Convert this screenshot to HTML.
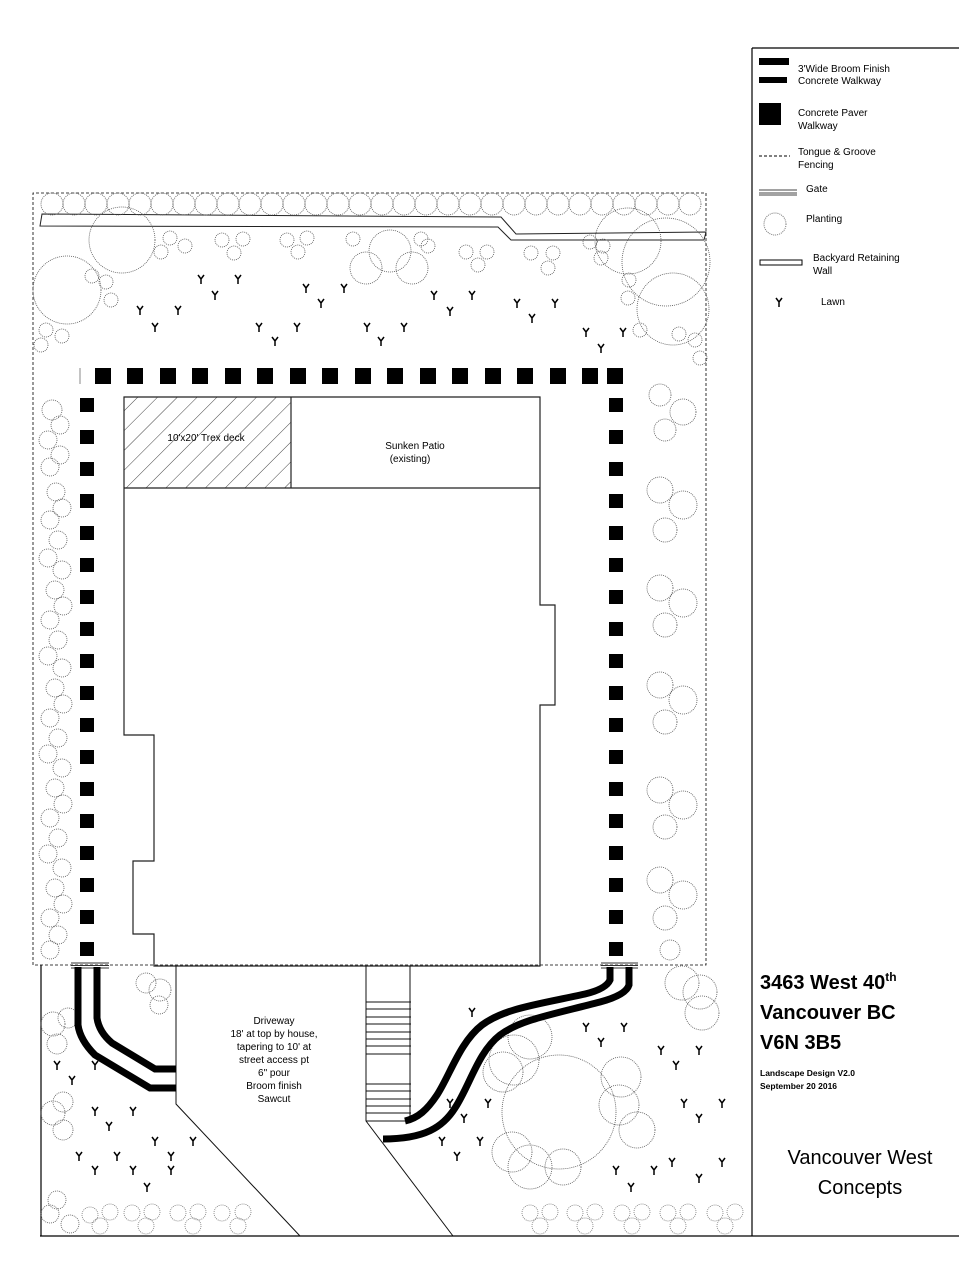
<!DOCTYPE html>
<html><head><meta charset="utf-8"><style>
html,body{margin:0;padding:0;background:#fff;}
svg{display:block;font-family:"Liberation Sans",sans-serif;}
</style></head><body>
<svg width="959" height="1278" viewBox="0 0 959 1278" xmlns="http://www.w3.org/2000/svg">
<defs>
<pattern id="hatch" width="14" height="14" patternUnits="userSpaceOnUse" patternTransform="rotate(45)">
<line x1="0" y1="0" x2="0" y2="14" stroke="#444" stroke-width="1"/>
</pattern>
<symbol id="y" viewBox="-4 -5 8 10" overflow="visible">
<path d="M-3,-4 L0,0 L3,-4 M0,0 L0,5" stroke="#000" stroke-width="1.5" fill="none"/>
</symbol>
</defs>
<rect width="959" height="1278" fill="#fff"/>

<!-- right panel -->
<path d="M752,48 L959,48 M752,48 L752,1236 M40,1236 L959,1236" stroke="#000" stroke-width="1.2" fill="none"/>

<!-- legend -->
<g font-size="10" fill="#000">
<rect x="759" y="58" width="30" height="7"/><rect x="759" y="77" width="28" height="6"/>
<text x="798" y="72">3'Wide Broom Finish</text><text x="798" y="84">Concrete Walkway</text>
<rect x="759" y="103" width="22" height="22"/>
<text x="798" y="116">Concrete Paver</text><text x="798" y="129">Walkway</text>
<line x1="759" y1="156" x2="790" y2="156" stroke="#000" stroke-dasharray="3,2"/>
<text x="798" y="155">Tongue &amp; Groove</text><text x="798" y="168">Fencing</text>
<line x1="759" y1="190" x2="797" y2="190" stroke="#444"/><line x1="759" y1="193" x2="797" y2="193" stroke="#444"/><line x1="759" y1="195" x2="797" y2="195" stroke="#444"/>
<text x="806" y="192">Gate</text>
<circle cx="775" cy="224" r="11" fill="none" stroke="#777" stroke-dasharray="1,1"/>
<text x="806" y="222">Planting</text>
<rect x="760" y="260" width="42" height="5" fill="none" stroke="#000"/>
<text x="813" y="261">Backyard Retaining</text><text x="813" y="274">Wall</text>
<use href="#y" x="775" y="297" width="8" height="10"/>
<text x="821" y="305">Lawn</text>
</g>

<!-- title -->
<g fill="#000">
<text x="760" y="989" font-size="20" font-weight="bold">3463 West 40<tspan font-size="12" dy="-8">th</tspan></text>
<text x="760" y="1019" font-size="20" font-weight="bold">Vancouver BC</text>
<text x="760" y="1049" font-size="20" font-weight="bold">V6N 3B5</text>
<text x="760" y="1076" font-size="8.5" font-weight="bold">Landscape Design V2.0</text>
<text x="760" y="1089" font-size="8.5" font-weight="bold">September 20 2016</text>
<text x="860" y="1164" font-size="20" text-anchor="middle">Vancouver West</text>
<text x="860" y="1194" font-size="20" text-anchor="middle">Concepts</text>
</g>

<!-- fence -->
<path d="M33,965 L33,193 L706,193 L706,965 L33,965" stroke="#000" stroke-width="0.8" stroke-dasharray="3,2" fill="none"/>
<line x1="41" y1="965" x2="41" y2="1236" stroke="#000" stroke-width="1.2"/>

<!-- retaining wall -->
<path d="M42,214 L501,217 L516,234 L706,232 L704,240 L511,240 L498,227 L40,226 Z" fill="#fff" stroke="#222" stroke-width="1"/>

<!-- top row planting -->
<g fill="none" stroke="#555" stroke-width="0.8" stroke-dasharray="1,1">
<circle cx="52" cy="204" r="11"/><circle cx="74" cy="204" r="11"/><circle cx="96" cy="204" r="11"/><circle cx="118" cy="204" r="11"/><circle cx="140" cy="204" r="11"/><circle cx="162" cy="204" r="11"/><circle cx="184" cy="204" r="11"/><circle cx="206" cy="204" r="11"/><circle cx="228" cy="204" r="11"/><circle cx="250" cy="204" r="11"/><circle cx="272" cy="204" r="11"/><circle cx="294" cy="204" r="11"/><circle cx="316" cy="204" r="11"/><circle cx="338" cy="204" r="11"/><circle cx="360" cy="204" r="11"/><circle cx="382" cy="204" r="11"/><circle cx="404" cy="204" r="11"/><circle cx="426" cy="204" r="11"/><circle cx="448" cy="204" r="11"/><circle cx="470" cy="204" r="11"/><circle cx="492" cy="204" r="11"/><circle cx="514" cy="204" r="11"/><circle cx="536" cy="204" r="11"/><circle cx="558" cy="204" r="11"/><circle cx="580" cy="204" r="11"/><circle cx="602" cy="204" r="11"/><circle cx="624" cy="204" r="11"/><circle cx="646" cy="204" r="11"/><circle cx="668" cy="204" r="11"/><circle cx="690" cy="204" r="11"/>
<!-- big top -->
<circle cx="122" cy="240" r="33"/><circle cx="67" cy="290" r="34"/><circle cx="390" cy="251" r="21"/><circle cx="366" cy="268" r="16"/><circle cx="412" cy="268" r="16"/>
<circle cx="628" cy="241" r="33"/><circle cx="666" cy="262" r="44"/><circle cx="673" cy="309" r="36"/>
<!-- small clusters top -->
<circle cx="170" cy="238" r="7"/><circle cx="185" cy="246" r="7"/><circle cx="161" cy="252" r="7"/>
<circle cx="222" cy="240" r="7"/><circle cx="243" cy="239" r="7"/><circle cx="234" cy="253" r="7"/>
<circle cx="287" cy="240" r="7"/><circle cx="307" cy="238" r="7"/><circle cx="298" cy="252" r="7"/>
<circle cx="353" cy="239" r="7"/><circle cx="421" cy="239" r="7"/><circle cx="428" cy="246" r="7"/>
<circle cx="466" cy="252" r="7"/><circle cx="487" cy="252" r="7"/><circle cx="478" cy="265" r="7"/>
<circle cx="531" cy="253" r="7"/><circle cx="553" cy="253" r="7"/><circle cx="548" cy="268" r="7"/>
<circle cx="590" cy="242" r="7"/><circle cx="603" cy="246" r="7"/><circle cx="601" cy="258" r="7"/>
<circle cx="46" cy="330" r="7"/><circle cx="62" cy="336" r="7"/><circle cx="41" cy="345" r="7"/>
<circle cx="106" cy="282" r="7"/><circle cx="111" cy="300" r="7"/><circle cx="92" cy="276" r="7"/>
<circle cx="629" cy="280" r="7"/><circle cx="628" cy="298" r="7"/><circle cx="640" cy="330" r="7"/>
<circle cx="695" cy="340" r="7"/><circle cx="700" cy="358" r="7"/><circle cx="679" cy="334" r="7"/>
</g>

<!-- side planting -->
<g fill="none" stroke="#555" stroke-width="0.8" stroke-dasharray="1,1">
<circle cx="52" cy="410" r="10"/><circle cx="60" cy="425" r="9"/><circle cx="48" cy="440" r="9"/>
<circle cx="60" cy="455" r="9"/><circle cx="50" cy="467" r="9"/>
<circle cx="56" cy="492" r="9"/><circle cx="62" cy="508" r="9"/><circle cx="50" cy="520" r="9"/>
<circle cx="58" cy="540" r="9"/><circle cx="48" cy="558" r="9"/><circle cx="62" cy="570" r="9"/>
<circle cx="55" cy="590" r="9"/><circle cx="63" cy="606" r="9"/><circle cx="50" cy="620" r="9"/>
<circle cx="58" cy="640" r="9"/><circle cx="48" cy="656" r="9"/><circle cx="62" cy="668" r="9"/>
<circle cx="55" cy="688" r="9"/><circle cx="63" cy="704" r="9"/><circle cx="50" cy="718" r="9"/>
<circle cx="58" cy="738" r="9"/><circle cx="48" cy="754" r="9"/><circle cx="62" cy="768" r="9"/>
<circle cx="55" cy="788" r="9"/><circle cx="63" cy="804" r="9"/><circle cx="50" cy="818" r="9"/>
<circle cx="58" cy="838" r="9"/><circle cx="48" cy="854" r="9"/><circle cx="62" cy="868" r="9"/>
<circle cx="55" cy="888" r="9"/><circle cx="63" cy="904" r="9"/><circle cx="50" cy="918" r="9"/>
<circle cx="58" cy="935" r="9"/><circle cx="50" cy="950" r="9"/>
<circle cx="660" cy="395" r="11"/><circle cx="683" cy="412" r="13"/><circle cx="665" cy="430" r="11"/>
<circle cx="660" cy="490" r="13"/><circle cx="683" cy="505" r="14"/><circle cx="665" cy="530" r="12"/>
<circle cx="660" cy="588" r="13"/><circle cx="683" cy="603" r="14"/><circle cx="665" cy="625" r="12"/>
<circle cx="660" cy="685" r="13"/><circle cx="683" cy="700" r="14"/><circle cx="665" cy="722" r="12"/>
<circle cx="660" cy="790" r="13"/><circle cx="683" cy="805" r="14"/><circle cx="665" cy="827" r="12"/>
<circle cx="660" cy="880" r="13"/><circle cx="683" cy="895" r="14"/><circle cx="665" cy="918" r="12"/>
<circle cx="670" cy="950" r="10"/>
<!-- bottom -->
<circle cx="559" cy="1112" r="57"/>
<circle cx="530" cy="1037" r="22"/><circle cx="514" cy="1060" r="25"/><circle cx="503" cy="1072" r="20"/>
<circle cx="621" cy="1077" r="20"/><circle cx="619" cy="1105" r="20"/><circle cx="637" cy="1130" r="18"/>
<circle cx="512" cy="1152" r="20"/><circle cx="530" cy="1167" r="22"/><circle cx="563" cy="1167" r="18"/>
<circle cx="682" cy="983" r="17"/><circle cx="700" cy="992" r="17"/><circle cx="702" cy="1013" r="17"/>
<circle cx="146" cy="983" r="10"/><circle cx="160" cy="990" r="11"/><circle cx="159" cy="1005" r="9"/>
<circle cx="53" cy="1024" r="12"/><circle cx="68" cy="1018" r="10"/><circle cx="57" cy="1044" r="10"/>
<circle cx="53" cy="1113" r="12"/><circle cx="63" cy="1102" r="10"/><circle cx="63" cy="1130" r="10"/>
<circle cx="57" cy="1200" r="9"/><circle cx="50" cy="1214" r="9"/><circle cx="70" cy="1224" r="9"/>
</g>
<g fill="none" stroke="#777" stroke-width="0.8" stroke-dasharray="1,1">
<circle cx="90" cy="1215" r="8"/><circle cx="110" cy="1212" r="8"/><circle cx="100" cy="1226" r="8"/>
<circle cx="132" cy="1213" r="8"/><circle cx="152" cy="1212" r="8"/><circle cx="146" cy="1226" r="8"/>
<circle cx="178" cy="1213" r="8"/><circle cx="198" cy="1212" r="8"/><circle cx="193" cy="1226" r="8"/>
<circle cx="222" cy="1213" r="8"/><circle cx="243" cy="1212" r="8"/><circle cx="238" cy="1226" r="8"/>
<circle cx="530" cy="1213" r="8"/><circle cx="550" cy="1212" r="8"/><circle cx="540" cy="1226" r="8"/>
<circle cx="575" cy="1213" r="8"/><circle cx="595" cy="1212" r="8"/><circle cx="585" cy="1226" r="8"/>
<circle cx="622" cy="1213" r="8"/><circle cx="642" cy="1212" r="8"/><circle cx="632" cy="1226" r="8"/>
<circle cx="668" cy="1213" r="8"/><circle cx="688" cy="1212" r="8"/><circle cx="678" cy="1226" r="8"/>
<circle cx="715" cy="1213" r="8"/><circle cx="735" cy="1212" r="8"/><circle cx="725" cy="1226" r="8"/>
</g>

<!-- house -->
<rect x="124" y="397" width="167" height="91" fill="url(#hatch)" stroke="none"/>
<path d="M124,397 L540,397 L540,605 L555,605 L555,705 L540,705 L540,966 L154,966 L154,934 L133,934 L133,861 L154,861 L154,735 L124,735 Z" fill="none" stroke="#222" stroke-width="1.2"/>
<path d="M124,488 L540,488 M291,397 L291,488" stroke="#222" stroke-width="1.2"/>
<g font-size="10" fill="#000" text-anchor="middle">
<text x="206" y="441">10'x20' Trex deck</text>
<text x="415" y="449">Sunken Patio</text>
<text x="410" y="462">(existing)</text>
</g>

<!-- pavers -->
<g fill="#000">
<rect x="95" y="368" width="16" height="16"/><rect x="127" y="368" width="16" height="16"/><rect x="160" y="368" width="16" height="16"/><rect x="192" y="368" width="16" height="16"/><rect x="225" y="368" width="16" height="16"/><rect x="257" y="368" width="16" height="16"/><rect x="290" y="368" width="16" height="16"/><rect x="322" y="368" width="16" height="16"/><rect x="355" y="368" width="16" height="16"/><rect x="387" y="368" width="16" height="16"/><rect x="420" y="368" width="16" height="16"/><rect x="452" y="368" width="16" height="16"/><rect x="485" y="368" width="16" height="16"/><rect x="517" y="368" width="16" height="16"/><rect x="550" y="368" width="16" height="16"/><rect x="582" y="368" width="16" height="16"/><rect x="607" y="368" width="16" height="16"/>
</g>
<line x1="80" y1="368" x2="80" y2="384" stroke="#888"/>
<g fill="#000">
<rect x="80" y="398" width="14" height="14"/><rect x="80" y="430" width="14" height="14"/><rect x="80" y="462" width="14" height="14"/><rect x="80" y="494" width="14" height="14"/><rect x="80" y="526" width="14" height="14"/><rect x="80" y="558" width="14" height="14"/><rect x="80" y="590" width="14" height="14"/><rect x="80" y="622" width="14" height="14"/><rect x="80" y="654" width="14" height="14"/><rect x="80" y="686" width="14" height="14"/><rect x="80" y="718" width="14" height="14"/><rect x="80" y="750" width="14" height="14"/><rect x="80" y="782" width="14" height="14"/><rect x="80" y="814" width="14" height="14"/><rect x="80" y="846" width="14" height="14"/><rect x="80" y="878" width="14" height="14"/><rect x="80" y="910" width="14" height="14"/><rect x="80" y="942" width="14" height="14"/>
<rect x="609" y="398" width="14" height="14"/><rect x="609" y="430" width="14" height="14"/><rect x="609" y="462" width="14" height="14"/><rect x="609" y="494" width="14" height="14"/><rect x="609" y="526" width="14" height="14"/><rect x="609" y="558" width="14" height="14"/><rect x="609" y="590" width="14" height="14"/><rect x="609" y="622" width="14" height="14"/><rect x="609" y="654" width="14" height="14"/><rect x="609" y="686" width="14" height="14"/><rect x="609" y="718" width="14" height="14"/><rect x="609" y="750" width="14" height="14"/><rect x="609" y="782" width="14" height="14"/><rect x="609" y="814" width="14" height="14"/><rect x="609" y="846" width="14" height="14"/><rect x="609" y="878" width="14" height="14"/><rect x="609" y="910" width="14" height="14"/><rect x="609" y="942" width="14" height="14"/>
</g>

<!-- gates -->
<g stroke="#333" stroke-width="1">
<path d="M71,963 L109,963 M71,965.5 L109,965.5 M71,968 L109,968"/>
<path d="M601,963 L638,963 M601,965.5 L638,965.5 M601,968 L638,968"/>
</g>

<!-- driveway & stairs -->
<g stroke="#111" stroke-width="1" fill="none">
<path d="M176,966 L176,1104 L300,1236"/>
<path d="M366,966 L366,1121 L453,1236"/>
<path d="M410,966 L410,1121 L366,1121"/>
<path d="M366,1002 H411 M366,1009 H411 M366,1017 H411 M366,1024 H411 M366,1032 H411 M366,1039 H411 M366,1046 H411 M366,1054 H411 M366,1084 H411 M366,1091 H411 M366,1099 H411 M366,1106 H411 M366,1113 H411"/>
</g>
<g font-size="10" fill="#000" text-anchor="middle">
<text x="274" y="1024">Driveway</text>
<text x="274" y="1037">18' at top by house,</text>
<text x="274" y="1050">tapering to 10' at</text>
<text x="274" y="1063">street access pt</text>
<text x="274" y="1076">6" pour</text>
<text x="274" y="1089">Broom finish</text>
<text x="274" y="1102">Sawcut</text>
</g>

<!-- broom walkways -->
<g stroke="#000" stroke-width="7" fill="none">
<path d="M78,967 L78,1025 Q80,1040 95,1055 L150,1088 L176,1088"/>
<path d="M97,967 L97,1018 Q99,1032 112,1043 L155,1069 L176,1069"/>
<path d="M629,967 L629,985 Q626,995 600,1002 C550,1015 520,1020 500,1035 C478,1052 470,1085 455,1108 C443,1127 425,1139 383,1139"/>
<path d="M610,967 L610,980 Q606,989 585,994 C540,1004 505,1008 482,1025 C460,1042 450,1075 437,1095 C427,1110 418,1118 405,1121"/>
</g>

<!-- lawn marks -->
<g>
<use href="#y" x="197" y="274" width="8" height="10"/><use href="#y" x="234" y="274" width="8" height="10"/><use href="#y" x="211" y="290" width="8" height="10"/>
<use href="#y" x="136" y="305" width="8" height="10"/><use href="#y" x="174" y="305" width="8" height="10"/><use href="#y" x="151" y="322" width="8" height="10"/>
<use href="#y" x="302" y="283" width="8" height="10"/><use href="#y" x="340" y="283" width="8" height="10"/><use href="#y" x="317" y="298" width="8" height="10"/>
<use href="#y" x="255" y="322" width="8" height="10"/><use href="#y" x="293" y="322" width="8" height="10"/><use href="#y" x="271" y="336" width="8" height="10"/>
<use href="#y" x="363" y="322" width="8" height="10"/><use href="#y" x="400" y="322" width="8" height="10"/><use href="#y" x="377" y="336" width="8" height="10"/>
<use href="#y" x="430" y="290" width="8" height="10"/><use href="#y" x="468" y="290" width="8" height="10"/><use href="#y" x="446" y="306" width="8" height="10"/>
<use href="#y" x="513" y="298" width="8" height="10"/><use href="#y" x="551" y="298" width="8" height="10"/><use href="#y" x="528" y="313" width="8" height="10"/>
<use href="#y" x="582" y="327" width="8" height="10"/><use href="#y" x="619" y="327" width="8" height="10"/><use href="#y" x="597" y="343" width="8" height="10"/>
<use href="#y" x="53" y="1060" width="8" height="10"/><use href="#y" x="91" y="1060" width="8" height="10"/><use href="#y" x="68" y="1075" width="8" height="10"/>
<use href="#y" x="91" y="1106" width="8" height="10"/><use href="#y" x="129" y="1106" width="8" height="10"/><use href="#y" x="105" y="1121" width="8" height="10"/>
<use href="#y" x="151" y="1136" width="8" height="10"/><use href="#y" x="189" y="1136" width="8" height="10"/>
<use href="#y" x="75" y="1151" width="8" height="10"/><use href="#y" x="113" y="1151" width="8" height="10"/><use href="#y" x="167" y="1151" width="8" height="10"/>
<use href="#y" x="91" y="1165" width="8" height="10"/><use href="#y" x="129" y="1165" width="8" height="10"/><use href="#y" x="167" y="1165" width="8" height="10"/>
<use href="#y" x="143" y="1182" width="8" height="10"/>
<use href="#y" x="468" y="1007" width="8" height="10"/><use href="#y" x="582" y="1022" width="8" height="10"/><use href="#y" x="620" y="1022" width="8" height="10"/><use href="#y" x="597" y="1037" width="8" height="10"/>
<use href="#y" x="657" y="1045" width="8" height="10"/><use href="#y" x="695" y="1045" width="8" height="10"/><use href="#y" x="672" y="1060" width="8" height="10"/>
<use href="#y" x="446" y="1098" width="8" height="10"/><use href="#y" x="484" y="1098" width="8" height="10"/><use href="#y" x="460" y="1113" width="8" height="10"/>
<use href="#y" x="438" y="1136" width="8" height="10"/><use href="#y" x="476" y="1136" width="8" height="10"/><use href="#y" x="453" y="1151" width="8" height="10"/>
<use href="#y" x="680" y="1098" width="8" height="10"/><use href="#y" x="718" y="1098" width="8" height="10"/><use href="#y" x="695" y="1113" width="8" height="10"/>
<use href="#y" x="668" y="1157" width="8" height="10"/><use href="#y" x="718" y="1157" width="8" height="10"/><use href="#y" x="695" y="1173" width="8" height="10"/>
<use href="#y" x="612" y="1165" width="8" height="10"/><use href="#y" x="650" y="1165" width="8" height="10"/><use href="#y" x="627" y="1182" width="8" height="10"/>
</g>
</svg>
</body></html>
